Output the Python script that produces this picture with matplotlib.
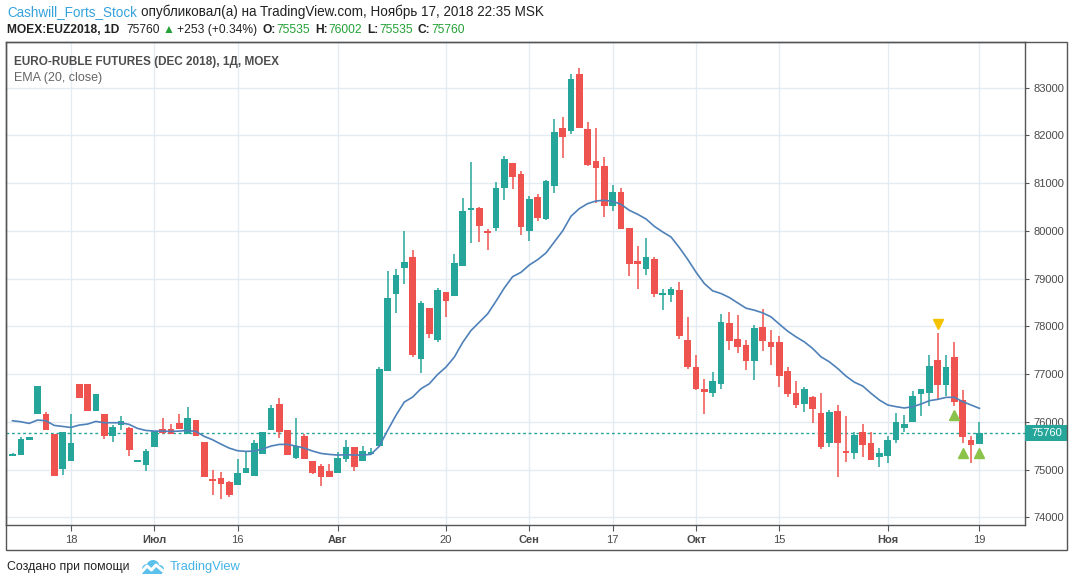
import matplotlib
matplotlib.use("Agg")
import matplotlib.pyplot as plt
import matplotlib.transforms as mtransforms
from matplotlib.patches import Rectangle, Circle

# ---- data (index = trading day) ----
opens = [75290, 75311, 75625, 76155, 76169, 75744, 75004, 75171, 76798, 76798,
         76218, 76169, 75695, 75925, 75876, 75170, 75087, 75464, 75855, 75855,
         75981, 75751, 76044, 75583, 74794, 74829, 74745, 74669, 74934, 74857,
         75318, 75820, 76379, 75834, 75248, 75709, 75185, 75080, 74976, 74920,
         75213, 75478, 75171, 75319, 75494, 77062, 78672, 79216, 79460, 77313,
         78393, 77710, 78728, 78630, 79258, 80428, 80484, 80003, 80052, 80909,
         81425, 81195, 79989, 80714, 80250, 80941, 82148, 82093, 83279, 82128,
         81457, 81353, 80522, 80808, 80054, 79363, 79203, 79405, 78658, 78658,
         78763, 77716, 77151, 76685, 76608, 76796, 78067, 77731, 77606, 77278,
         77983, 77669, 77669, 77061, 76601, 76377, 76517, 76189, 75561, 76224,
         75380, 75351, 75787, 75557, 75271, 75292, 75627, 75878, 75997, 76583,
         76604, 77295, 76771, 77358, 76457, 75620, 75535]
highs = [75345, 75688, 75688, 76756, 76197, 75744, 75792, 76169, 76798, 76798,
         76588, 76169, 75939, 76128, 75897, 75190, 75437, 75813, 76086, 75960,
         76169, 76316, 76044, 75583, 74997, 74955, 74766, 75227, 75374, 75625,
         75792, 76358, 76504, 75834, 76086, 75751, 75185, 75122, 75122, 75374,
         75625, 75478, 75499, 75445, 77139, 79167, 79209, 80003, 79606, 78540,
         78393, 78812, 78728, 79522, 80693, 81446, 80505, 80045, 81028, 81572,
         81425, 81258, 80735, 80777, 81060, 82337, 82379, 83279, 83405, 82274,
         82148, 81541, 80955, 80892, 80054, 79678, 79845, 79447, 78784, 78826,
         78931, 78198, 77402, 76894, 77040, 78255, 78297, 78234, 77711, 78025,
         78360, 77920, 77794, 77145, 76852, 76727, 76538, 76601, 76245, 76349,
         76119, 75784, 75955, 75787, 75452, 75704, 76185, 76143, 76646, 76688,
         77400, 77860, 77400, 77672, 76667, 75704, 76002]
lows = [75290, 75311, 75625, 76155, 75820, 74857, 74878, 75171, 76490, 76218,
        76218, 75632, 75569, 75820, 75276, 75165, 74962, 75464, 75744, 75744,
        75855, 75751, 75695, 74836, 74473, 74375, 74417, 74669, 74934, 74857,
        75318, 75820, 75653, 75297, 75227, 75213, 74899, 74648, 74836, 74920,
        75150, 74962, 75171, 75300, 75494, 77062, 78275, 78881, 77355, 77020,
        77752, 77668, 78191, 78630, 79258, 79738, 79759, 79592, 79989, 80638,
        80868, 79906, 79780, 80198, 80229, 80794, 81527, 82030, 82155, 81360,
        80585, 80292, 80417, 80040, 79056, 78784, 79077, 78616, 78337, 78512,
        77737, 77109, 76669, 76168, 76524, 76691, 77508, 77445, 77089, 76880,
        77487, 77194, 76733, 76524, 76294, 76210, 75982, 75435, 75477, 74849,
        75163, 75226, 75271, 75208, 75061, 75145, 75564, 75787, 75997, 76122,
        76332, 76478, 76541, 76332, 75564, 75145, 75535]
closes = [75325, 75646, 75688, 76756, 75820, 74857, 75792, 75562, 76490, 76218,
          76588, 75695, 75897, 76023, 75402, 75185, 75395, 75813, 75771, 75744,
          75855, 76086, 75695, 74850, 74752, 74690, 74459, 74934, 75039, 75562,
          75792, 76295, 75778, 75297, 75499, 75213, 74934, 74836, 74836, 75248,
          75478, 75046, 75395, 75361, 77097, 78602, 79083, 79355, 77397, 78498,
          77836, 78770, 78526, 79334, 80421, 80484, 80094, 79948, 80902, 81509,
          81139, 80073, 80672, 80261, 81039, 82065, 81967, 83175, 82155, 81381,
          81318, 80522, 80808, 80040, 79308, 79308, 79447, 78679, 78707, 78784,
          77800, 77151, 76690, 76629, 76852, 78087, 77697, 77571, 77278, 77962,
          77697, 77571, 76964, 76587, 76356, 76685, 76273, 75477, 76203, 75561,
          75365, 75721, 75522, 75208, 75348, 75620, 75997, 75955, 76541, 76688,
          77169, 76771, 77148, 76416, 75690, 75507, 75760]
ema20 = [76023, 76002, 75967, 76037, 76023, 75925, 75904, 75883, 75932, 75953,
         76009, 75981, 75981, 75981, 75946, 75862, 75820, 75806, 75806, 75799,
         75806, 75820, 75799, 75695, 75625, 75534, 75450, 75395, 75381, 75388,
         75430, 75492, 75527, 75527, 75492, 75450, 75388, 75339, 75318, 75304,
         75311, 75304, 75304, 75319, 75487, 75821, 76135, 76414, 76518, 76693,
         76797, 76992, 77146, 77355, 77661, 77912, 78087, 78261, 78526, 78804,
         79041, 79132, 79285, 79397, 79538, 79768, 79999, 80306, 80467, 80571,
         80627, 80641, 80620, 80557, 80431, 80348, 80250, 80096, 79978, 79873,
         79650, 79405, 79136, 78897, 78744, 78688, 78604, 78492, 78381, 78339,
         78283, 78199, 78046, 77899, 77780, 77675, 77536, 77361, 77257, 77117,
         76957, 76830, 76751, 76597, 76457, 76353, 76318, 76290, 76318, 76374,
         76443, 76471, 76513, 76513, 76422, 76353, 76283]
last_price = 75760

tick_idx = [7, 17, 27, 39, 52, 62, 72, 82, 92, 105, 116]
tick_lbl = ["18", "Июл", "16", "Авг", "20", "Сен", "17", "Окт", "15", "Ноя", "19"]
month_lbl = {"Июл", "Авг", "Сен", "Окт", "Ноя"}
price_ticks = [74000, 75000, 76000, 77000, 78000, 79000, 80000, 81000, 82000, 83000]

# signal markers
sell_idx, sell_px = [111], [78049]
buy_idx, buy_px = [113, 114, 116], [76136, 75354, 75341]

UP, DN = "#26a69a", "#ef5350"
W, H = 1073, 587
ARIAL = ["Liberation Sans", "DejaVu Sans"]

fig = plt.figure(figsize=(W / 100, H / 100), dpi=100)
fig.patch.set_facecolor("white")
ax = fig.add_axes([6 / W, 1 - 525 / H, 1019 / W, 483 / H])

# candles
n = len(closes)
xs = list(range(n))
for i in xs:
    o, h, l, c = opens[i], highs[i], lows[i], closes[i]
    col = UP if c >= o else DN
    ax.vlines(i, l, h, color=col, lw=1.1, zorder=3)
    lo, hi = min(o, c), max(o, c)
    if hi - lo < 30:
        mid = (hi + lo) / 2
        lo, hi = mid - 15, mid + 15
    ax.bar(i, hi - lo, bottom=lo, width=0.8, color=col, lw=0, zorder=4)

ax.plot(xs, ema20, color="#4f81b9", lw=1.2, zorder=5)
ax.axhline(last_price, color=UP, lw=1, ls=(0, (2, 2)), zorder=2)

ax.plot(sell_idx, sell_px, "v", color="#f5c200", ms=7, mec="#f5c200", zorder=6)
ax.plot(buy_idx, buy_px, "^", color="#8bc34a", ms=7, mec="#8bc34a", zorder=6)

ax.set_xlim(-0.78, 121.47)
ax.set_ylim(73839, 83957)

ax.set_xticks(tick_idx)
ax.set_xticklabels(tick_lbl)
for t in ax.get_xticklabels():
    t.set_family(ARIAL)
    if t.get_text() in month_lbl:
        t.set_fontweight("bold")
ax.set_yticks(price_ticks)
ax.set_yticklabels([str(p) for p in price_ticks], family=ARIAL)
ax.yaxis.tick_right()
ax.tick_params(axis="x", length=4, pad=3, labelsize=8, colors="#4a4a4a", color="#555")
ax.tick_params(axis="y", length=3, pad=3, labelsize=8, colors="#4a4a4a", color="#555")
ax.grid(True, color="#e4ebf1", lw=1, zorder=0)
ax.set_axisbelow(True)
for s in ax.spines.values():
    s.set_color("#555")
    s.set_linewidth(1)

# last price tag on the price axis
tr = mtransforms.blended_transform_factory(ax.transAxes, ax.transData)
ax.add_patch(Rectangle((1.0, last_price - 168), 42 / 1019, 336, transform=tr,
                       fc=UP, ec="none", clip_on=False, zorder=10))
ax.text(1 + 6 / 1019, last_price, str(last_price), transform=tr, color="white",
        fontsize=8, va="center", ha="left", family=ARIAL, clip_on=False, zorder=11)

# outer frame incl. axis strips
fig.add_artist(Rectangle((6 / W, 1 - 550 / H), 1061 / W, 508 / H, transform=fig.transFigure,
                         fill=False, ec="#555", lw=1))

renderer = fig.canvas.get_renderer()


def text_run(x, y, parts, size, target_w, family=ARIAL):
    # draw coloured pieces one after another, scaled to the measured width
    def draw(sz):
        cur, made = x, []
        for s, col, wt, gap in parts:
            t = fig.text(cur / W, 1 - y / H, s, color=col, fontsize=sz, fontweight=wt,
                         family=family, va="center", ha="left")
            cur += t.get_window_extent(renderer).width + gap * sz / size
            made.append(t)
        return made, cur - x
    made, w = draw(size)
    for t in made:
        t.remove()
    draw(size * target_w / w)


BLUE, GREEN, BLACK = "#36a2dc", "#23a136", "#222222"
text_run(7, 12, [("Cashwill_Forts_Stock", BLUE, "normal", 4),
                 ("опубликовал(а) на TradingView.com, Ноябрь 17, 2018 22:35 MSK", BLACK, "normal", 0)],
         9, 539)
text_run(7, 30, [("MOEX:EUZ2018, 1D", BLACK, "bold", 7),
                 ("75760", BLACK, "normal", 3), ("▲", GREEN, "normal", 3),
                 ("+253 (+0.34%)", BLACK, "normal", 5),
                 ("O:", BLACK, "bold", 1), ("75535", GREEN, "normal", 5),
                 ("H:", BLACK, "bold", 1), ("76002", GREEN, "normal", 5),
                 ("L:", BLACK, "bold", 1), ("75535", GREEN, "normal", 5),
                 ("C:", BLACK, "bold", 1), ("75760", GREEN, "normal", 0)],
         9, 457)
text_run(14, 62, [("EURO-RUBLE FUTURES (DEC 2018), 1Д, MOEX", "#4d4d4d", "bold", 0)], 8.5, 263)
text_run(14, 78, [("EMA (20, close)", "#666666", "normal", 0)], 8.5, 88)

text_run(7, 567, [("Создано при помощи", BLACK, "normal", 0)], 9, 123)
text_run(170, 567, [("TradingView", "#45b3e8", "normal", 0)], 10, 71)

# little cloud logo
lax = fig.add_axes([139 / W, 1 - 576 / H, 26 / W, 18 / H])
lax.set_xlim(0, 26)
lax.set_ylim(0, 18)
lax.axis("off")
LB = "#5cc0ec"
lax.add_patch(Circle((8, 7), 5, color=LB, lw=0))
lax.add_patch(Circle((14, 9.5), 6.5, color=LB, lw=0))
lax.add_patch(Circle((20.5, 6.5), 4.5, color=LB, lw=0))
lax.add_patch(Rectangle((3, 2), 20, 5, color=LB, lw=0))
lax.plot([2, 8, 12.5, 17, 24], [3.5, 10, 6, 11, 5], color="white", lw=2.2,
         solid_capstyle="round", solid_joinstyle="round")

fig.savefig("out.png", dpi=100, facecolor="white")
